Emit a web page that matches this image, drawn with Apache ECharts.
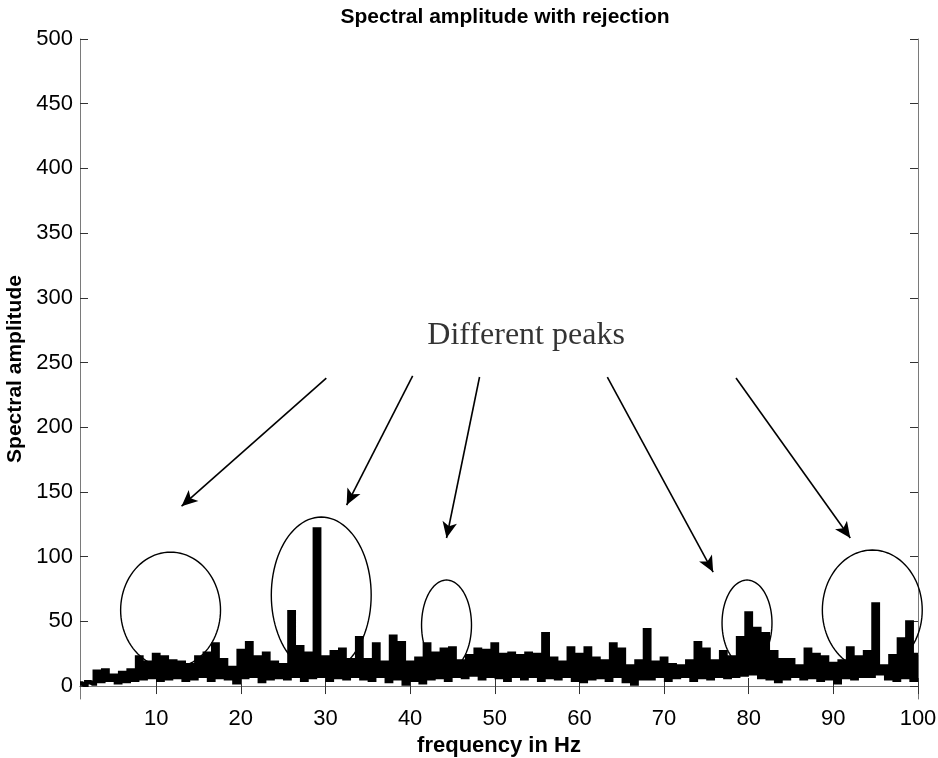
<!DOCTYPE html>
<html><head><meta charset="utf-8">
<script src="https://cdn.jsdelivr.net/npm/echarts@6/dist/echarts.min.js"></script>
<style>html,body{margin:0;padding:0;background:#fff}#c{width:938px;height:758px}</style>
</head><body><div id="c"></div>
<script>
const freqStart = 1;
const freqStep = 0.5;
// spectral amplitude sampled every 0.5 Hz from 1 Hz to 100 Hz
const amplitude = [
 2, 1, 3, 2, 11, 4, 12, 5, 8, 3,
 10, 4, 12, 5, 22, 6, 18, 7, 24, 5,
 22, 6, 19, 7, 18, 5, 16, 6, 22, 8,
 25, 5, 32, 7, 20, 6, 14, 3, 27, 7,
 33, 8, 22, 4, 25, 6, 18, 7, 16, 6,
 57, 8, 30, 5, 25, 7, 121, 8, 22, 5,
 26, 7, 28, 6, 20, 8, 37, 6, 20, 5,
 32, 8, 18, 4, 38, 6, 33, 2, 18, 5,
 21, 3, 32, 6, 25, 7, 28, 5, 29, 8,
 19, 7, 23, 9, 28, 6, 27, 8, 32, 7,
 24, 5, 25, 8, 23, 6, 25, 8, 24, 5,
 40, 7, 21, 6, 18, 8, 29, 5, 24, 4,
 29, 6, 21, 7, 19, 5, 32, 8, 28, 4,
 15, 2, 19, 6, 43, 6, 18, 8, 21, 5,
 16, 7, 15, 8, 19, 5, 33, 7, 28, 6,
 19, 8, 26, 7, 22, 8, 37, 9, 56, 10,
 44, 7, 40, 6, 26, 4, 20, 6, 20, 8,
 15, 6, 28, 7, 24, 5, 22, 6, 17, 3,
 19, 7, 29, 6, 22, 8, 26, 8, 63, 10,
 15, 6, 23, 5, 36, 7, 49, 5, 24
];
const xTicks = [10, 20, 30, 40, 50, 60, 70, 80, 90, 100];
const yTicks = [0, 50, 100, 150, 200, 250, 300, 350, 400, 450, 500];
// annotation ellipses: [centre Hz, centre amplitude, half-width Hz, half-height amplitude]
const ellipses = [
 [11.7, 58.7, 5.9, 44.8],
 [29.5, 70.3, 5.9, 60.3],
 [44.3, 47.1, 2.95, 34.8],
 [79.8, 48.7, 2.95, 33.2],
 [94.6, 58.7, 5.9, 46.4]
];
// annotation arrows: [from Hz, from amp, to Hz, to amp]
const arrows = [
 [30.1, 238, 13.0, 139],
 [40.3, 239.6, 32.5, 139.9],
 [48.2, 238.8, 44.3, 114.4],
 [63.3, 238.8, 75.8, 88.1],
 [78.5, 238, 92.0, 114.4]
];
const noteText = 'Different peaks';
const notePos = [53.7, 270.5];

const chart = echarts.init(document.getElementById('c'), null, {renderer: 'canvas'});
const axisGray = '#7a7a7a';
const sans = 'Liberation Sans';
const commonX = {
  type: 'value', min: 1, max: 100,
  splitLine: {show: false},
  axisLine: {show: true, lineStyle: {color: axisGray, width: 1}},
  axisTick: {show: true, inside: true, length: 8, customValues: xTicks, lineStyle: {color: '#333'}},
};
const commonY = {
  type: 'value', min: -10, max: 500,
  splitLine: {show: false},
  axisLine: {show: true, lineStyle: {color: axisGray, width: 1}},
  axisTick: {show: true, inside: true, length: 8, customValues: yTicks, lineStyle: {color: '#333'}},
};
chart.setOption({
  animation: false,
  backgroundColor: '#fff',
  title: {
    text: 'Spectral amplitude with rejection',
    left: 500, top: 2, textAlign: 'center',
    textStyle: {fontFamily: sans, fontWeight: 'bold', fontSize: 21, color: '#000'}
  },
  grid: {left: 80, right: 20, top: 39, bottom: 59, containLabel: false, outerBoundsMode: 'none'},
  xAxis: [
    Object.assign({}, commonX, {
      position: 'bottom',
      axisLabel: {customValues: xTicks, fontFamily: sans, fontSize: 22, color: '#000', margin: 9},
      name: 'frequency in Hz', nameLocation: 'middle', nameGap: 22,
      nameTextStyle: {fontFamily: sans, fontWeight: 'bold', fontSize: 22, color: '#000', verticalAlign: 'middle', padding: [0, 0, 0, 0]}
    }),
    Object.assign({}, commonX, {position: 'top', axisLabel: {show: false}})
  ],
  yAxis: [
    Object.assign({}, commonY, {
      position: 'left',
      axisLabel: {customValues: yTicks, fontFamily: sans, fontSize: 22, color: '#000', margin: 7},
      name: 'Spectral amplitude', nameLocation: 'middle', nameGap: 53,
      nameTextStyle: {fontFamily: sans, fontWeight: 'bold', fontSize: 21, color: '#000'}
    }),
    Object.assign({}, commonY, {position: 'right', axisLabel: {show: false}})
  ],
  series: [
    {
      type: 'line', xAxisIndex: 0, yAxisIndex: 0,
      data: amplitude.map((v, i) => [freqStart + i * freqStep, v]),
      step: 'middle', showSymbol: false, symbol: 'none',
      lineStyle: {color: '#000', width: 4.6, join: 'miter'},
      markLine: {
        silent: true, symbol: ['none', 'arrow'], symbolSize: [11, 16],
        lineStyle: {color: '#000', width: 1.6, type: 'solid'},
        label: {show: false},
        data: arrows.map(a => [{coord: [a[0], a[1]]}, {coord: [a[2], a[3]]}])
      },
      z: 3
    },
    {
      type: 'custom', xAxisIndex: 0, yAxisIndex: 0, silent: true,
      data: ellipses,
      encode: {x: 0, y: 1},
      renderItem: function (params, api) {
        const cx = api.value(0), cy = api.value(1), rx = api.value(2), ry = api.value(3);
        const pts = [];
        for (let k = 0; k <= 96; k++) {
          const t = (Math.PI * 2 * k) / 96;
          pts.push(api.coord([cx + rx * Math.cos(t), cy + ry * Math.sin(t)]));
        }
        return {type: 'polygon', shape: {points: pts}, style: {fill: 'none', stroke: '#000', lineWidth: 1.4}};
      },
      z: 4
    },
    {
      type: 'scatter', xAxisIndex: 0, yAxisIndex: 0, silent: true,
      data: [notePos], symbolSize: 0,
      label: {show: true, position: 'inside', formatter: noteText,
        fontFamily: 'Liberation Serif', fontSize: 32, color: '#000'},
      z: 5
    }
  ]
});
</script></body></html>
